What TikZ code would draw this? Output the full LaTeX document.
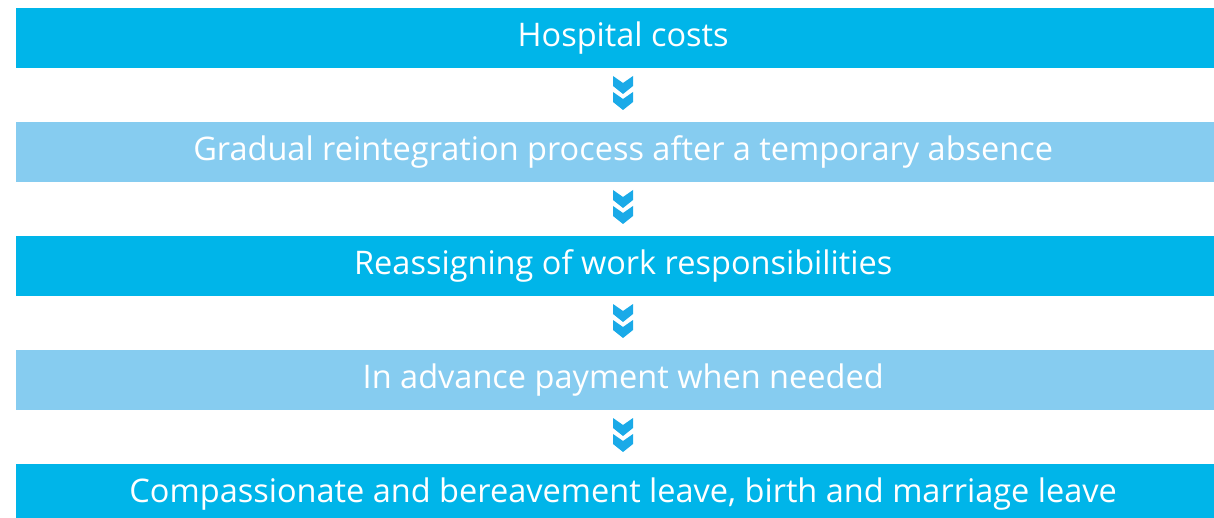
\documentclass[tikz,border=0pt]{standalone}
\usepackage{fontspec}
\setmainfont{Open Sans}[Ligatures=NoCommon]
\definecolor{darkbox}{HTML}{00B5E9}
\definecolor{lightbox}{HTML}{86CCF0}
\definecolor{chev}{HTML}{1AAAE8}
\begin{document}
\begin{tikzpicture}[x=1pt,y=-1pt,
  stepbox/.style={minimum width=1214pt,minimum height=60pt,inner sep=0pt,anchor=north west,text=white,font=\fontsize{32.5}{38}\selectfont},
  darkstep/.style={stepbox,fill=darkbox},
  lightstep/.style={stepbox,fill=lightbox},
  chevron/.pic={\fill[chev] (-10,0) -- (0,7) -- (10,0) -- (10,10) -- (0,18) -- (-10,10) -- cycle;}
]
\useasboundingbox (0,0) rectangle (1214,518);
\node[darkstep] (b1) at (16,8) {Hospital costs};
\node[lightstep] (b2) at (16,122) {Gradual reintegration process after a temporary absence};
\node[darkstep] (b3) at (16,236) {Reassigning of work responsibilities};
\node[lightstep] (b4) at (16,350) {In advance payment when needed};
\node[darkstep] (b5) at (16,464) {Compassionate and bereavement leave, birth and marriage leave};
\foreach \y in {76,190,304,418}{
  \pic at (623,\y) {chevron};
  \pic at (623,\y+16) {chevron};
}
\end{tikzpicture}
\end{document}
